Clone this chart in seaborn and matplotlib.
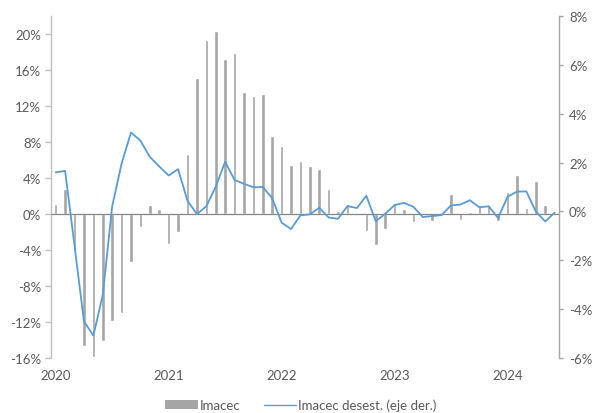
import numpy as np
import pandas as pd
import matplotlib
matplotlib.use("Agg")
import matplotlib.pyplot as plt
import seaborn as sns
from matplotlib.lines import Line2D
from matplotlib.patches import Patch

# Monthly periods, Jan 2020 - Jun 2024
months = pd.date_range("2020-01-01", periods=54, freq="MS").strftime("%Y-%m").tolist()

# Imacec, annual % change (left axis)
imacec = [
    1.15, 2.8, -4.15, -14.7, -15.85, -14.1, -11.85, -11.0, -5.3, -1.4, 0.95, 0.56,
    -3.33, -2.04, 6.67, 15.1, 19.3, 20.3, 17.2, 17.85, 13.56, 13.07, 13.33, 8.65,
    7.57, 5.44, 5.87, 5.28, 5.05, 2.8, 0.37, 1.13, 0.05, -1.89, -3.48, -1.63,
    1.26, 0.59, -0.93, -0.05, -0.8, 0.05, 2.19, -0.69, 0.22, 0.95, 0.98, -0.76,
    2.42, 4.37, 0.65, 3.68, 0.95, 0.1,
]

# Seasonally adjusted Imacec, monthly % change (right axis)
desest = [
    1.60, 1.66, -1.4, -4.5, -5.08, -3.42, 0.21, 1.96, 3.23, 2.9, 2.23, 1.84,
    1.47, 1.73, 0.44, -0.11, 0.21, 1.01, 2.03, 1.29, 1.13, 0.99, 1.0, 0.54,
    -0.46, -0.72, -0.16, -0.12, 0.15, -0.25, -0.3, 0.22, 0.14, 0.64, -0.4, -0.1,
    0.26, 0.35, 0.19, -0.23, -0.19, -0.15, 0.25, 0.28, 0.46, 0.17, 0.21, -0.27,
    0.6, 0.81, 0.82, 0.0, -0.41, -0.05,
]

year_labels = ["2020", "2021", "2022", "2023", "2024"]
left_ticks = [-16, -12, -8, -4, 0, 4, 8, 12, 16, 20]
right_ticks = [-6, -4, -2, 0, 2, 4, 6, 8]

sns.set_theme(style="white")
plt.rcParams["font.family"] = ["Lato", "DejaVu Sans"]

BAR = "#A5A5A5"
LINE = "#5B9BD5"
TXT = "#595959"
FS = 9.5

df = pd.DataFrame({"mes": months, "imacec": imacec, "desest": desest})

fig = plt.figure(figsize=(5.94, 4.14), dpi=100)
ax = fig.add_axes([51 / 594, 1 - 359 / 414, (559.3 - 51) / 594, (359 - 17) / 414])

sns.barplot(data=df, x="mes", y="imacec", color=BAR, width=0.38,
            saturation=1, ax=ax, zorder=2)
ax.axhline(0, color="#868686", lw=0.9, zorder=3)

ax2 = ax.twinx()
sns.lineplot(data=df, x="mes", y="desest", color=LINE, linewidth=1.3,
             sort=False, ax=ax2, zorder=4)

ax.set_xlim(-0.5, len(months) - 0.5)
ax.set_ylim(-16, 22)
ax2.set_ylim(-6, 8)

ax.set_yticks(left_ticks)
ax.set_yticklabels([f"{t}%" for t in left_ticks])
ax2.set_yticks(right_ticks)
ax2.set_yticklabels([f"{t}%" for t in right_ticks])

ax.set_xticks([0, 12, 24, 36, 48])
ax.set_xticklabels(year_labels)

ax.set_xlabel("")
ax.set_ylabel("")
ax2.set_xlabel("")
ax2.set_ylabel("")
ax.grid(False)
ax2.grid(False)

for s in ["top", "right", "bottom"]:
    ax.spines[s].set_visible(False)
for s in ["top", "left", "bottom"]:
    ax2.spines[s].set_visible(False)
ax.spines["left"].set_color("#BFBFBF")
ax.spines["left"].set_linewidth(1.0)
ax2.spines["right"].set_color("#A6A6A6")
ax2.spines["right"].set_linewidth(1.0)

ax.tick_params(axis="y", which="major", left=True, length=4, width=1.0,
               color="#BFBFBF", labelcolor=TXT, labelsize=FS, pad=3)
ax.tick_params(axis="x", bottom=False, labelcolor=TXT, labelsize=FS, pad=2)
ax2.tick_params(axis="y", right=True, length=3, width=1.0,
                color="#A6A6A6", labelcolor=TXT, labelsize=FS, pad=4)

handles = [
    Patch(facecolor=BAR, edgecolor="none", label="Imacec"),
    Line2D([0], [0], color=LINE, lw=1.0, label="Imacec desest. (eje der.)"),
]
leg = fig.legend(handles=handles, loc="center", ncol=2,
                 bbox_to_anchor=(0.507, 1 - 406 / 414), frameon=False,
                 fontsize=FS, handlelength=2.45, handleheight=0.6,
                 handletextpad=0.15, columnspacing=1.8)
for t in leg.get_texts():
    t.set_color(TXT)

fig.savefig("out.png", dpi=100)
